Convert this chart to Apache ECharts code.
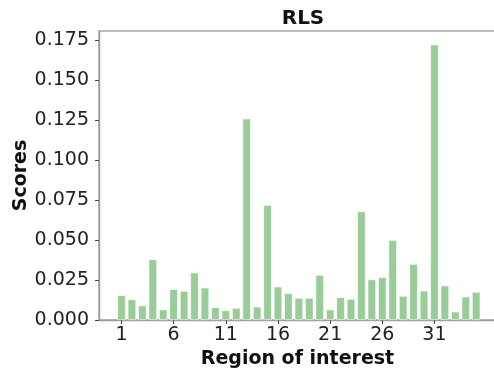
<!DOCTYPE html>
<html>
<head>
<meta charset="utf-8">
<script src="https://cdn.jsdelivr.net/npm/echarts@6/dist/echarts.min.js"></script>
<style>
  html, body { margin: 0; padding: 0; background: #ffffff; }
  #chart { width: 494px; height: 372px; }
</style>
</head>
<body>
<div id="chart"></div>
<script>
// Region indices and their RLS scores
const regions = [1, 2, 3, 4, 5, 6, 7, 8, 9, 10, 11, 12, 13, 14, 15, 16, 17, 18,
  19, 20, 21, 22, 23, 24, 25, 26, 27, 28, 29, 30, 31, 32, 33, 34, 35];
const scores = [0.0154, 0.0129, 0.0090, 0.0379, 0.0065, 0.0192, 0.0181, 0.0296,
  0.0202, 0.0079, 0.0060, 0.0075, 0.1258, 0.0083, 0.0717, 0.0208, 0.0167,
  0.0138, 0.0138, 0.0281, 0.0065, 0.0142, 0.0131, 0.0679, 0.0254, 0.0267,
  0.0500, 0.0150, 0.0350, 0.0183, 0.1721, 0.0215, 0.0052, 0.0146, 0.0175];
const xTicks = [1, 6, 11, 16, 21, 26, 31];
const yTicks = [0, 0.025, 0.05, 0.075, 0.1, 0.125, 0.15, 0.175];

const FONT = 'DejaVu Sans';
const chart = echarts.init(document.getElementById('chart'), null, { renderer: 'canvas' });

chart.setOption({
  animation: false,
  backgroundColor: '#ffffff',
  title: {
    text: 'RLS',
    left: 298,
    top: 4,
    textAlign: 'center',
    textStyle: { fontFamily: FONT, fontSize: 20, fontWeight: 'bold', color: '#111' }
  },
  grid: {
    left: 99, right: -2, top: 31, bottom: 52,
    show: true,
    borderColor: '#a6a6a6',
    borderWidth: 1.4,
    containLabel: false,
    outerBoundsMode: 'none'
  },
  xAxis: {
    type: 'value',
    min: -1.157,
    max: 36.9,
    splitLine: { show: false },
    axisLine: { show: true, onZero: false, lineStyle: { color: '#9a9a9a', width: 1.4 } },
    axisTick: { show: true, customValues: xTicks, length: 4, lineStyle: { color: '#444', width: 1 } },
    axisLabel: {
      customValues: xTicks,
      fontFamily: FONT, fontSize: 19, color: '#222', margin: 6,
      formatter: v => String(v)
    },
    name: 'Region of interest',
    nameLocation: 'middle',
    nameGap: 30,
    nameMoveOverlap: false,
    nameTextStyle: { fontFamily: FONT, fontSize: 19, fontWeight: 'bold', color: '#111' }
  },
  yAxis: {
    type: 'value',
    min: 0,
    max: 0.1806,
    splitLine: { show: false },
    axisLine: { show: true, onZero: false, lineStyle: { color: '#9a9a9a', width: 1.4 } },
    axisTick: { show: true, customValues: yTicks, length: 4, lineStyle: { color: '#444', width: 1 } },
    axisLabel: {
      customValues: yTicks,
      fontFamily: FONT, fontSize: 19, color: '#222', margin: 10,
      formatter: v => v.toFixed(3)
    },
    name: 'Scores',
    nameLocation: 'middle',
    nameRotate: 90,
    nameGap: 68,
    nameMoveOverlap: false,
    nameTextStyle: { fontFamily: FONT, fontSize: 19, fontWeight: 'bold', color: '#111' }
  },
  series: [{
    type: 'bar',
    data: regions.map((r, i) => [r, scores[i]]),
    barWidth: 8.3,
    itemStyle: { color: '#99cc99', borderColor: '#ffffff', borderWidth: 0.6 }
  }]
});
</script>
</body>
</html>
